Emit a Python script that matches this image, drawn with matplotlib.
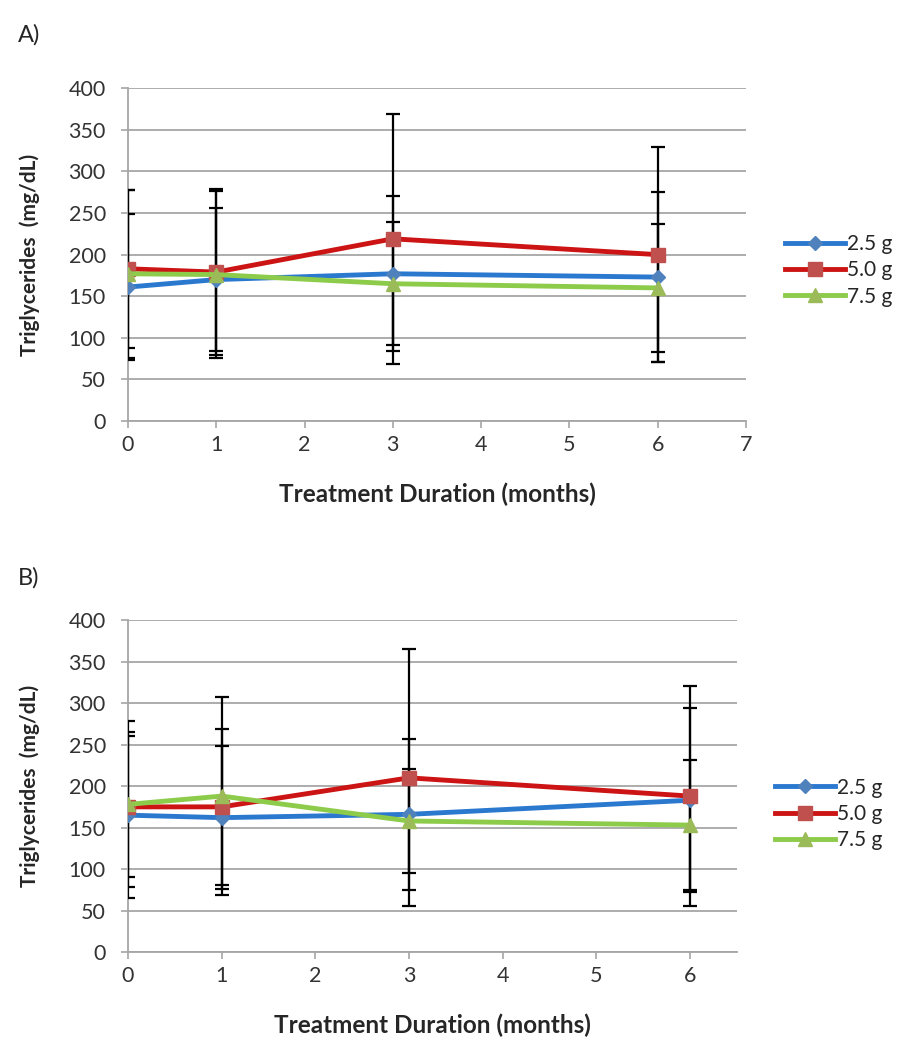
import matplotlib.pyplot as plt

plt.rcParams['font.family'] = ['Lato', 'DejaVu Sans']

months = [0, 1, 3, 6]
series = ['2.5 g', '5.0 g', '7.5 g']

# Panel A: means and SD
a_mean_25 = [161, 170, 177, 173]
a_mean_50 = [183, 179, 219, 200]
a_mean_75 = [177, 176, 165, 160]
a_sd_25 = [88, 86, 93, 102]
a_sd_50 = [95, 100, 150, 129]
a_sd_75 = [101, 100, 74, 77]

# Panel B: means and SD
b_mean_25 = [165, 162, 166, 183]
b_mean_50 = [175, 175, 210, 188]
b_mean_75 = [178, 188, 158, 153]
b_sd_25 = [100, 86, 91, 111]
b_sd_50 = [85, 94, 155, 133]
b_sd_75 = [100, 119, 63, 78]

line_cols = ['#2B78CF', '#CC1414', '#8DCB4A']
mark_cols = ['#4F81BD', '#C0504D', '#9BBB59']
markers = ['D', 's', '^']
msizes = [7, 10, 10]

fig = plt.figure(figsize=(9.06, 10.5), dpi=100)
axA = fig.add_axes([0.1413, 0.599, 0.682, 0.317])
axB = fig.add_axes([0.1413, 0.0933, 0.672, 0.316])


def draw(ax, means, sds, xmax, xticks, leg_x, leg_y, ylab_x):
    for i in range(3):
        ax.errorbar(months, means[i], yerr=sds[i], fmt='none', ecolor='black',
                    elinewidth=1.6, capsize=5, capthick=1.6, zorder=2.6)
    for i in range(3):
        ax.plot(months, means[i], color=line_cols[i], lw=3.5, marker=markers[i],
                ms=msizes[i], mfc=mark_cols[i], mec=mark_cols[i], label=series[i],
                zorder=3 + i)
    ax.set_ylim(0, 400)
    ax.set_xlim(0, xmax)
    ax.set_yticks(range(0, 401, 50))
    ax.set_xticks(xticks)
    ax.grid(axis='y', color='#A6A6A6', lw=1.3)
    ax.set_axisbelow(True)
    for s in ['top', 'right']:
        ax.spines[s].set_visible(False)
    for s in ['left', 'bottom']:
        ax.spines[s].set_color('#A6A6A6')
        ax.spines[s].set_linewidth(1.3)
    ax.tick_params(colors='#A6A6A6', labelcolor='#333333', labelsize=15.5,
                   length=5, width=1.2)
    ax.tick_params(axis='y', pad=11)
    ax.tick_params(axis='x', pad=5)
    ax.set_ylabel('Triglycerides  (mg/dL)', fontsize=15, fontweight='bold',
                  color='#262626')
    ax.set_xlabel('Treatment Duration (months)', fontsize=17.5, fontweight='bold',
                  color='#262626')
    ax.yaxis.set_label_coords(ylab_x, 0.5)
    ax.xaxis.set_label_coords(0.5, -0.185)
    ax.legend(loc='center left', bbox_to_anchor=(leg_x, leg_y), frameon=False,
              fontsize=15, handlelength=2.9, handletextpad=0.1, labelspacing=0.3,
              borderaxespad=0, borderpad=0, labelcolor='#262626')


draw(axA, [a_mean_25, a_mean_50, a_mean_75], [a_sd_25, a_sd_50, a_sd_75],
     7, range(0, 8), 1.063, 0.453, -0.142)
draw(axB, [b_mean_25, b_mean_50, b_mean_75], [b_sd_25, b_sd_50, b_sd_75],
     6.5, range(0, 7), 1.062, 0.416, -0.145)

fig.text(0.02, 0.967, 'A)', fontsize=17, color='#262626', va='center')
fig.text(0.02, 0.45, 'B)', fontsize=17, color='#262626', va='center')

fig.savefig('out.png', dpi=100)
